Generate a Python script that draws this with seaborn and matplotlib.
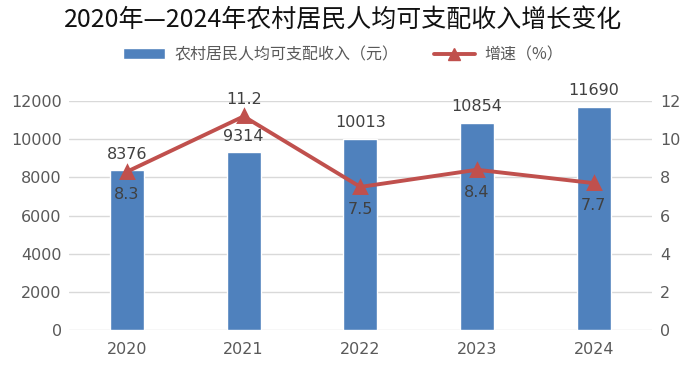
import pandas as pd
import seaborn as sns
from matplotlib import pyplot as plt
from matplotlib.patches import Patch
from matplotlib.lines import Line2D

years = ["2020", "2021", "2022", "2023", "2024"]
income = [8376, 9314, 10013, 10854, 11690]
growth = [8.3, 11.2, 7.5, 8.4, 7.7]

bar_color = "#4F81BD"
line_color = "#C0504D"
text_color = "#595959"

sns.set_style("white")
plt.rcParams['font.family'] = ['DejaVu Sans', 'Noto Sans CJK SC']

df = pd.DataFrame({"year": years, "income": income, "growth": growth})

fig = plt.figure(figsize=(6.87, 3.65), dpi=100)
ax = fig.add_axes([0.100, 0.096, 0.849, 0.627])

sns.barplot(x="year", y="income", data=df, color=bar_color, width=0.29,
            saturation=1, ax=ax, zorder=2)
ax.set_ylim(0, 12000)
ax.set_yticks(range(0, 12001, 2000))
ax.yaxis.grid(True, color="#D9D9D9", linewidth=1, zorder=0)
ax.set_axisbelow(True)
ax.set_xlabel("")
ax.set_ylabel("")
for s in ax.spines.values():
    s.set_visible(False)
ax.tick_params(axis="both", colors=text_color, labelsize=11.5, length=0)
ax.tick_params(axis="x", pad=9)
ax.tick_params(axis="y", pad=5)

for i, v in enumerate(income):
    ax.text(i, v + 450, str(v), ha="center", va="bottom", fontsize=11.5, color="#404040")

ax2 = ax.twinx()
sns.pointplot(x="year", y="growth", data=df, color=line_color, markers="^",
              markersize=9, linewidth=2.8, ax=ax2, errorbar=None)
ax2.set_ylim(0, 12)
ax2.set_yticks(range(0, 13, 2))
ax2.set_ylabel("")
ax2.set_xlabel("")
for s in ax2.spines.values():
    s.set_visible(False)
ax2.tick_params(axis="y", colors=text_color, labelsize=11.5, length=0, pad=6)

# 增速标签：2021年在点上方，其余在点下方
for i, v in enumerate(growth):
    if i == 1:
        ax2.text(i, v + 0.5, f"{v}", ha="center", va="bottom", fontsize=11.5, color="#404040")
    else:
        ax2.text(i, v - 0.8, f"{v}", ha="center", va="top", fontsize=11.5, color="#404040")

fig.text(0.5, 0.945, "2020年—2024年农村居民人均可支配收入增长变化", ha="center", va="center",
         fontsize=18, color="#111111", family=["Noto Sans CJK SC"], weight="medium")

handles = [Patch(facecolor=bar_color, label="农村居民人均可支配收入（元）"),
           Line2D([0], [0], color=line_color, marker="^", linewidth=2.8, markersize=9,
                  label="增速（%）")]
fig.legend(handles=handles, loc="center", bbox_to_anchor=(0.5, 0.85), ncol=2, frameon=False,
           prop={"family": ["Noto Sans CJK SC"], "size": 11.5}, labelcolor=text_color,
           handlelength=2.6, handletextpad=0.6, columnspacing=2.2)

fig.savefig("out.png", dpi=100)
